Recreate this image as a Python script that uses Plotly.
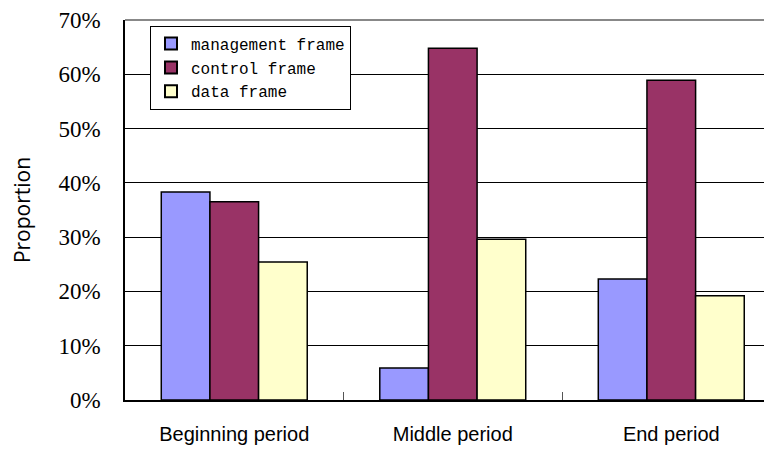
import plotly.graph_objects as go

categories = ["Beginning period", "Middle period", "End period"]
management = [0.383, 0.059, 0.223]
control = [0.365, 0.648, 0.589]
data_frame = [0.254, 0.296, 0.192]
series_names = ["management frame", "control frame", "data frame"]
colors = ["#9999FF", "#993366", "#FFFFCC"]

fig = go.Figure()
for name, vals, col in zip(series_names, [management, control, data_frame], colors):
    fig.add_trace(go.Bar(
        x=categories, y=vals, name=name,
        marker=dict(color=col, line=dict(color="black", width=1.5)),
    ))

# page body has an 8px default margin, so margins are offset by 8px
fig.update_layout(
    width=772, height=449,
    margin=dict(l=117, r=8, t=12, b=57),
    paper_bgcolor="white", plot_bgcolor="white",
    barmode="group", bargap=0.332, bargroupgap=0,
    showlegend=True,
    legend=dict(
        x=0.0386, y=0.985, xanchor="left", yanchor="top",
        bgcolor="white", bordercolor="black", borderwidth=1,
        font=dict(family="Liberation Mono", size=16, color="black"),
        tracegroupgap=0, itemsizing="constant",
    ),
    xaxis=dict(
        range=[-0.5, 2.461], automargin=False,
        showline=True, linecolor="black", linewidth=1.5,
        ticks="inside", tickson="boundaries", ticklen=8, tickcolor="#555555",
        showgrid=False,
        tickfont=dict(family="Liberation Sans", size=20, color="black"),
        ticklabelstandoff=15,
    ),
    yaxis=dict(
        range=[0, 0.7], dtick=0.1, tickformat=".0%", automargin=False,
        showline=True, linecolor="black", linewidth=1.5,
        showgrid=True, gridcolor="black", gridwidth=1,
        zeroline=False,
        tickfont=dict(family="Liberation Serif", size=23, color="black"),
        ticklabelstandoff=18,
        title=dict(text="Proportion", standoff=27,
                   font=dict(family="Open Sans", size=21, color="black")),
    ),
    shapes=[dict(type="line", xref="paper", yref="paper", x0=0, x1=1, y0=1, y1=1,
                 line=dict(color="#888888", width=2))],
)

fig.write_html("out.html")
